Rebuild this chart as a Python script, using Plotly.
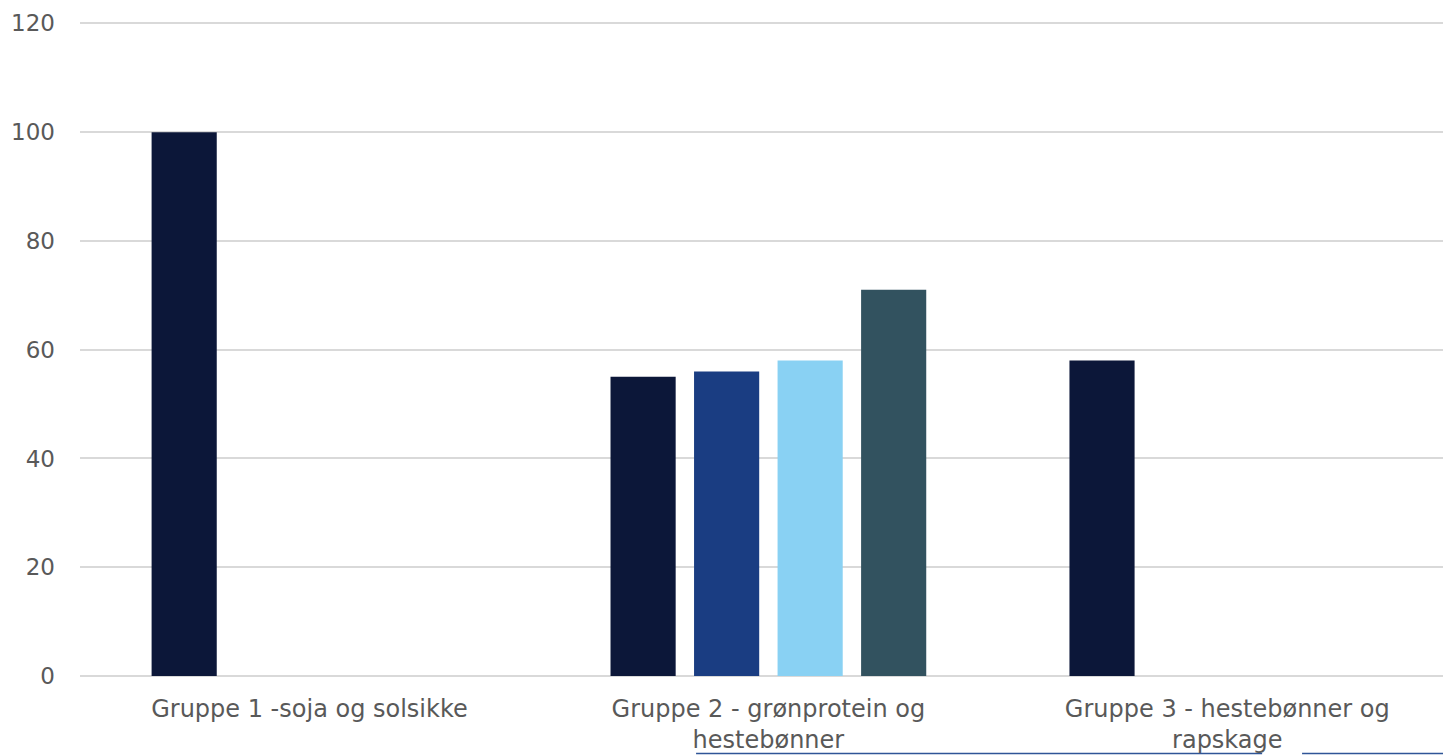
import plotly.graph_objects as go

# Grupper og værdier pr. serie
categories = [
    "Gruppe 1 -soja og solsikke",
    "Gruppe 2 - grønprotein og<br>hestebønner",
    "Gruppe 3 - hestebønner og<br>rapskage",
]
series_names = ["Serie 1", "Serie 2", "Serie 3", "Serie 4"]
series_values = [
    [100, 55, 58],
    [None, 56, None],
    [None, 58, None],
    [None, 71, None],
]
series_colors = ["#0C1739", "#1A3D82", "#89D1F3", "#32525F"]
y_ticks = [0, 20, 40, 60, 80, 100, 120]

fig = go.Figure()
for name, vals, color in zip(series_names, series_values, series_colors):
    fig.add_trace(go.Bar(
        x=categories, y=vals, name=name,
        marker=dict(color=color, line=dict(width=0)),
    ))

font_family = "DejaVu Sans, Open Sans, sans-serif"
fig.update_layout(
    width=1443, height=755,
    margin=dict(l=80, r=0, t=22, b=79),
    paper_bgcolor="white", plot_bgcolor="white",
    barmode="group", bargap=0.272, bargroupgap=0.22,
    showlegend=False,
    font=dict(family=font_family, size=23, color="#595959"),
)
fig.update_xaxes(
    type="category", range=[-0.5, 2.47],
    showgrid=False, showline=False, zeroline=False, ticks="",
    ticklabelstandoff=16,
    tickfont=dict(size=24, color="#595959"),
)
fig.update_yaxes(
    range=[0, 120.25], tickvals=y_ticks,
    showgrid=True, gridcolor="#D9D9D9", gridwidth=2,
    zeroline=True, zerolinecolor="#D9D9D9", zerolinewidth=2,
    showline=False, ticks="", ticklabelstandoff=24,
    tickfont=dict(size=23, color="#595959"),
)

# Tynd blå linje langs sidens nederste kant
for x0, x1 in [(0.452, 0.8673), (0.8966, 1.0)]:
    fig.add_shape(type="line", xref="paper", yref="paper",
                  x0=x0, x1=x1, y0=-0.1185, y1=-0.1185,
                  line=dict(color="#2F5597", width=1.5), layer="below")

fig.write_html("out.html")
